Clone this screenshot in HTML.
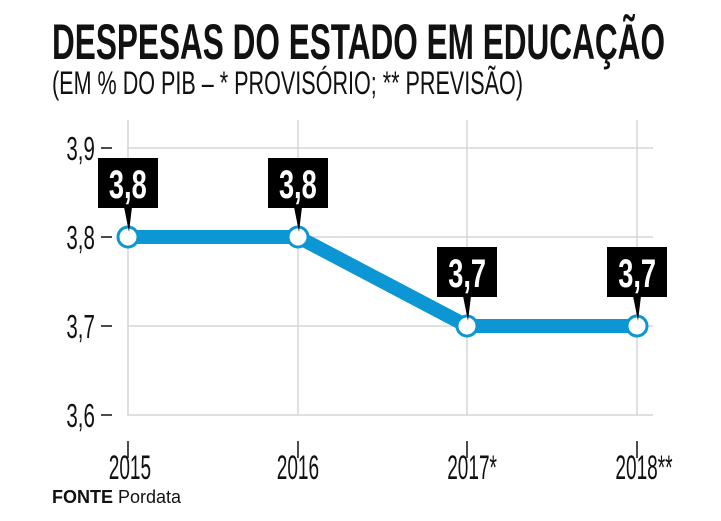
<!DOCTYPE html>
<html><head><meta charset="utf-8"><style>
body{margin:0;background:#fff;width:721px;height:521px;overflow:hidden;font-family:"Liberation Sans Narrow","Liberation Sans",sans-serif}
svg{position:absolute;left:0;top:0}
</style></head><body>
<svg width="721" height="521" viewBox="0 0 721 521">
<g stroke="#d6d6d6" stroke-width="1.5">
<line x1="127" y1="148" x2="653" y2="148"/><line x1="127" y1="237" x2="653" y2="237"/>
<line x1="127" y1="326" x2="653" y2="326"/><line x1="127" y1="415" x2="653" y2="415"/>
<line x1="128" y1="120" x2="128" y2="415"/><line x1="298" y1="120" x2="298" y2="415"/>
<line x1="467" y1="120" x2="467" y2="415"/><line x1="637" y1="120" x2="637" y2="415"/>
</g>
<g stroke="#111" stroke-width="1.5">
<line x1="101" y1="148" x2="112" y2="148"/><line x1="101" y1="237" x2="112" y2="237"/>
<line x1="101" y1="326" x2="112" y2="326"/><line x1="101" y1="415" x2="112" y2="415"/>
<line x1="128" y1="441" x2="128" y2="458"/><line x1="298" y1="441" x2="298" y2="458"/>
<line x1="467" y1="441" x2="467" y2="458"/><line x1="637" y1="441" x2="637" y2="458"/>
</g>
<g font-size="33" fill="#111" text-anchor="end" transform="scale(0.62,1)">
<text x="153" y="160">3,9</text><text x="153" y="249">3,8</text><text x="153" y="338">3,7</text><text x="153" y="427">3,6</text>
</g>
<g font-size="34" fill="#111" text-anchor="middle" transform="scale(0.56,1)">
<text x="232" y="479">2015</text><text x="532" y="479">2016</text><text x="843" y="479">2017*</text><text x="1150" y="479">2018**</text>
</g>
<polyline points="128,237 298,237 467,326 637,326" fill="none" stroke="#0c96d3" stroke-width="14"/>
<g fill="#fff" stroke="#0c96d3" stroke-width="3">
<circle cx="128" cy="237" r="10"/><circle cx="298" cy="237" r="10"/><circle cx="467" cy="326" r="10"/><circle cx="637" cy="326" r="10"/>
</g>
<g fill="#000">
<rect x="98" y="158" width="60" height="50"/><polygon points="124,207 132,207 129,232"/>
<rect x="268" y="158" width="60" height="50"/><polygon points="294,207 302,207 299,232"/>
<rect x="437" y="247" width="60" height="50"/><polygon points="463,296 471,296 468,321"/>
<rect x="607" y="247" width="60" height="50"/><polygon points="633,296 641,296 638,321"/>
</g>
<g font-size="40" font-weight="bold" fill="#fff" text-anchor="middle" transform="scale(0.68,1)">
<text x="188" y="198">3,8</text><text x="438" y="198">3,8</text><text x="687" y="287">3,7</text><text x="937" y="287">3,7</text>
</g>
<text x="52" y="59" font-size="50" font-weight="bold" fill="#111" textLength="613" lengthAdjust="spacingAndGlyphs">DESPESAS DO ESTADO EM EDUCAÇÃO</text>
<text x="52" y="94" font-size="32" fill="#111" textLength="471" lengthAdjust="spacingAndGlyphs">(EM % DO PIB – * PROVISÓRIO; ** PREVISÃO)</text>
<text x="52" y="503" font-size="18" fill="#111" font-family="Liberation Sans,sans-serif"><tspan font-weight="bold">FONTE</tspan> Pordata</text>
</svg>
</body></html>
